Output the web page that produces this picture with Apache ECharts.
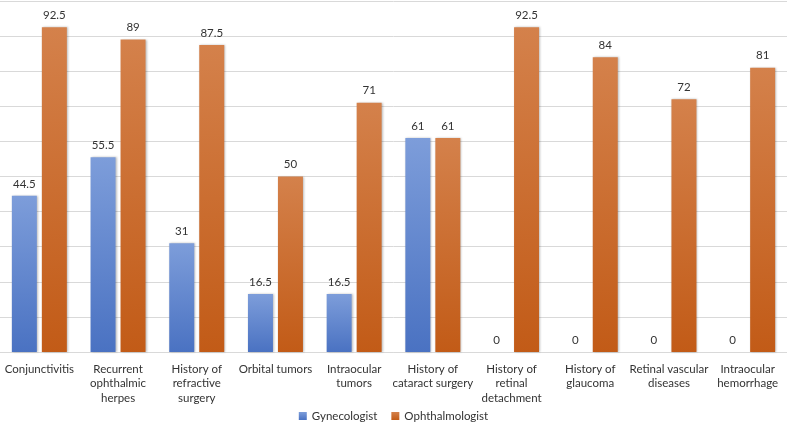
<!DOCTYPE html>
<html><head><meta charset="utf-8">
<script src="https://cdn.jsdelivr.net/npm/echarts@6/dist/echarts.min.js"></script>
<style>html,body{margin:0;padding:0;background:#fff}#c{width:787px;height:428px}</style>
</head><body><div id="c"></div>
<script>
const categories = ["Conjunctivitis","Recurrent\nophthalmic\nherpes","History of\nrefractive\nsurgery","Orbital tumors","Intraocular\ntumors","History of\ncataract surgery","History of\nretinal\ndetachment","History of\nglaucoma","Retinal vascular\ndiseases","Intraocular\nhemorrhage"];
const gynecologist = [44.5,55.5,31,16.5,16.5,61,0,0,0,0];
const ophthalmologist = [92.5,89,87.5,50,71,61,92.5,84,72,81];
const seriesNames = ["Gynecologist","Ophthalmologist"];

const chart = echarts.init(document.getElementById('c'));
function grad(top,bottom){return new echarts.graphic.LinearGradient(0,0,0,1,[{offset:0,color:top},{offset:1,color:bottom}]);}
const FONT = 'Lato';
const labelStyle = {show:true,position:'top',distance:6,color:'#333333',fontSize:11.5,fontFamily:FONT};
chart.setOption({
  animation:false,
  grid:{left:0,right:0,top:1,bottom:76,containLabel:false},
  legend:{bottom:1,left:'center',itemWidth:8,itemHeight:8,itemGap:14,icon:'rect',
    textStyle:{color:'#333333',fontSize:11.5,fontFamily:FONT},data:seriesNames},
  xAxis:{type:'category',data:categories,
    axisLine:{lineStyle:{color:'#d9d9d9'}},axisTick:{show:false},
    axisLabel:{interval:0,color:'#333333',fontSize:11.5,fontFamily:FONT,lineHeight:14.5,margin:10}},
  yAxis:{type:'value',min:0,max:100,interval:10,axisLabel:{show:false},axisLine:{show:false},axisTick:{show:false},
    splitLine:{lineStyle:{color:'#d9d9d9'}}},
  series:[
    {name:seriesNames[0],type:'bar',data:gynecologist,barWidth:25,barGap:'20%',
     itemStyle:{color:grad('#7d9dda','#4a72c2'),shadowColor:'rgba(0,0,0,0.25)',shadowBlur:2,shadowOffsetX:1},
     label:labelStyle},
    {name:seriesNames[1],type:'bar',data:ophthalmologist,barWidth:25,barGap:'20%',
     itemStyle:{color:grad('#d4814b','#c25b17'),shadowColor:'rgba(0,0,0,0.25)',shadowBlur:2,shadowOffsetX:1},
     label:labelStyle}
  ]
});
</script></body></html>
